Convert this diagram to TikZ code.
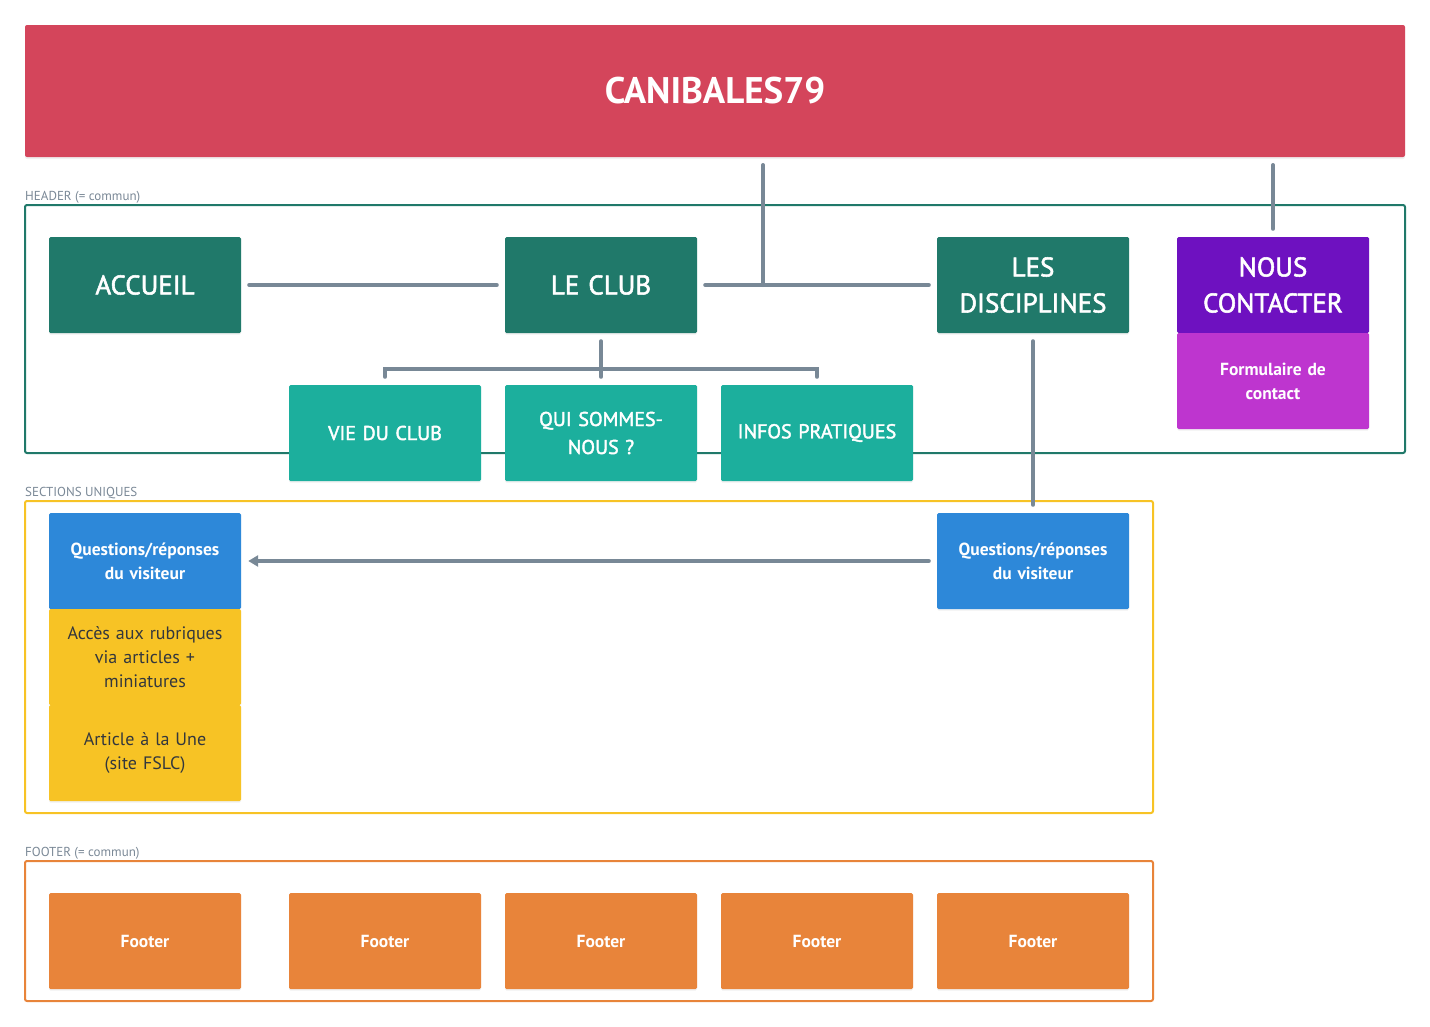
\documentclass[tikz,border=0pt]{standalone}
\usepackage{fontspec}
\setmainfont{PT Sans}
\newfontfamily\medfont[FakeBold=2]{PT Sans}
\usetikzlibrary{arrows.meta,shadows}
\definecolor{titlered}{HTML}{D4455B}
\definecolor{darkgreen}{HTML}{20796A}
\definecolor{teal}{HTML}{1CAF9D}
\definecolor{purp}{HTML}{6E11C0}
\definecolor{magen}{HTML}{BE35CF}
\definecolor{qblue}{HTML}{2D88D9}
\definecolor{yel}{HTML}{F7C325}
\definecolor{orng}{HTML}{E8843A}
\definecolor{conn}{HTML}{788896}
\definecolor{lbl}{HTML}{7A8896}
\definecolor{darktxt}{HTML}{33373D}
\tikzset{
  box/.style={rectangle, rounded corners=1.5pt, minimum width=192pt, minimum height=96pt, inner sep=4pt, align=center, text width=184pt,
    drop shadow={opacity=0.12, shadow xshift=0pt, shadow yshift=-1.5pt}},
  mainbox/.style={box, fill=darkgreen, text=white, font=\medfont\fontsize{27}{36}\selectfont},
  subbox/.style={box, fill=teal, text=white, font=\medfont\fontsize{20}{28}\selectfont},
  smallbold/.style={box, text=white, font=\fontsize{17.5}{24}\selectfont\bfseries},
  smallreg/.style={box, fill=yel, text=darktxt, font=\fontsize{18}{24}\selectfont},
  frame/.style={rounded corners=2pt, line width=2pt},
  seclabel/.style={anchor=base west, inner sep=0pt, text=lbl, font=\fontsize{13}{15}\selectfont},
  link/.style={draw=conn, line width=4pt, line cap=round},
}
\begin{document}
\begin{tikzpicture}[x=1pt,y=-1pt]
\useasboundingbox (0,0) rectangle (1430,1026);
% title
\node[rectangle, rounded corners=2pt, fill=titlered, minimum width=1380pt, minimum height=132pt, text=white,
  font=\fontsize{37}{42}\selectfont\bfseries, drop shadow={opacity=0.12, shadow xshift=0pt, shadow yshift=-2pt}] (title) at (715,91) {CANIBALES79};
% frames
\draw[frame, draw=darkgreen] (25,205) rectangle (1405,453);
\node[seclabel] (lh) at (25,200) {HEADER (= commun)};
\draw[frame, draw=yel] (25,501) rectangle (1153,813);
\node[seclabel] (ls) at (25,496) {SECTIONS UNIQUES};
\draw[frame, draw=orng] (25,861) rectangle (1153,1001);
\node[seclabel] (lf) at (25,856) {FOOTER (= commun)};
% header boxes
\node[mainbox] (accueil) at (145,285) {ACCUEIL};
\node[mainbox] (club) at (601,285) {LE CLUB};
\node[mainbox] (disc) at (1033,285) {LES\\DISCIPLINES};
\node[mainbox, fill=purp] (contact) at (1273,285) {NOUS\\CONTACTER};
\node[smallbold, fill=magen] (form) at (1273,381) {Formulaire de\\contact};
\node[subbox] (vie) at (385,433) {VIE DU CLUB};
\node[subbox] (qui) at (601,433) {QUI SOMMES-\\NOUS ?};
\node[subbox] (infos) at (817,433) {INFOS PRATIQUES};
% sections
\node[smallbold, fill=qblue] (qr1) at (145,561) {Questions/réponses\\du visiteur};
\node[smallreg] (acces) at (145,657) {Accès aux rubriques\\via articles +\\miniatures};
\node[smallreg] (une) at (145,753) {Article à la Une\\(site FSLC)};
\node[smallbold, fill=qblue] (qr2) at (1033,561) {Questions/réponses\\du visiteur};
% footers
\foreach \x/\n in {145/f1,385/f2,601/f3,817/f4,1033/f5}{
  \node[smallbold, fill=orng] (\n) at (\x,941) {Footer};
}
% connectors
\coordinate (t1) at (763,165);
\coordinate (j1) at (763,285);
\coordinate (t2) at (1273,165);
\coordinate (cb) at (601,369);
\coordinate (vl) at (385,369);
\coordinate (il) at (817,369);
\draw[link] ([xshift=8pt]accueil.east) -- ([xshift=-8pt]club.west);
\draw[link] ([xshift=8pt]club.east) -- ([xshift=-8pt]disc.west);
\draw[link] (t1) -- (j1);
\draw[link] (t2) -- ([yshift=8pt]contact.north);
\draw[link] ([yshift=-8pt]club.south) -- (cb);
\draw[link] ([yshift=8pt]vie.north) -- (vl) -- (il) -- ([yshift=8pt]infos.north);
\draw[link] (cb) -- ([yshift=8pt]qui.north);
\draw[link] ([yshift=-8pt]disc.south) -- ([yshift=8pt]qr2.north);
\draw[link, -{Triangle[length=10pt,width=11pt]}] ([xshift=-8pt]qr2.west) -- ([xshift=7pt]qr1.east);
\end{tikzpicture}
\end{document}
